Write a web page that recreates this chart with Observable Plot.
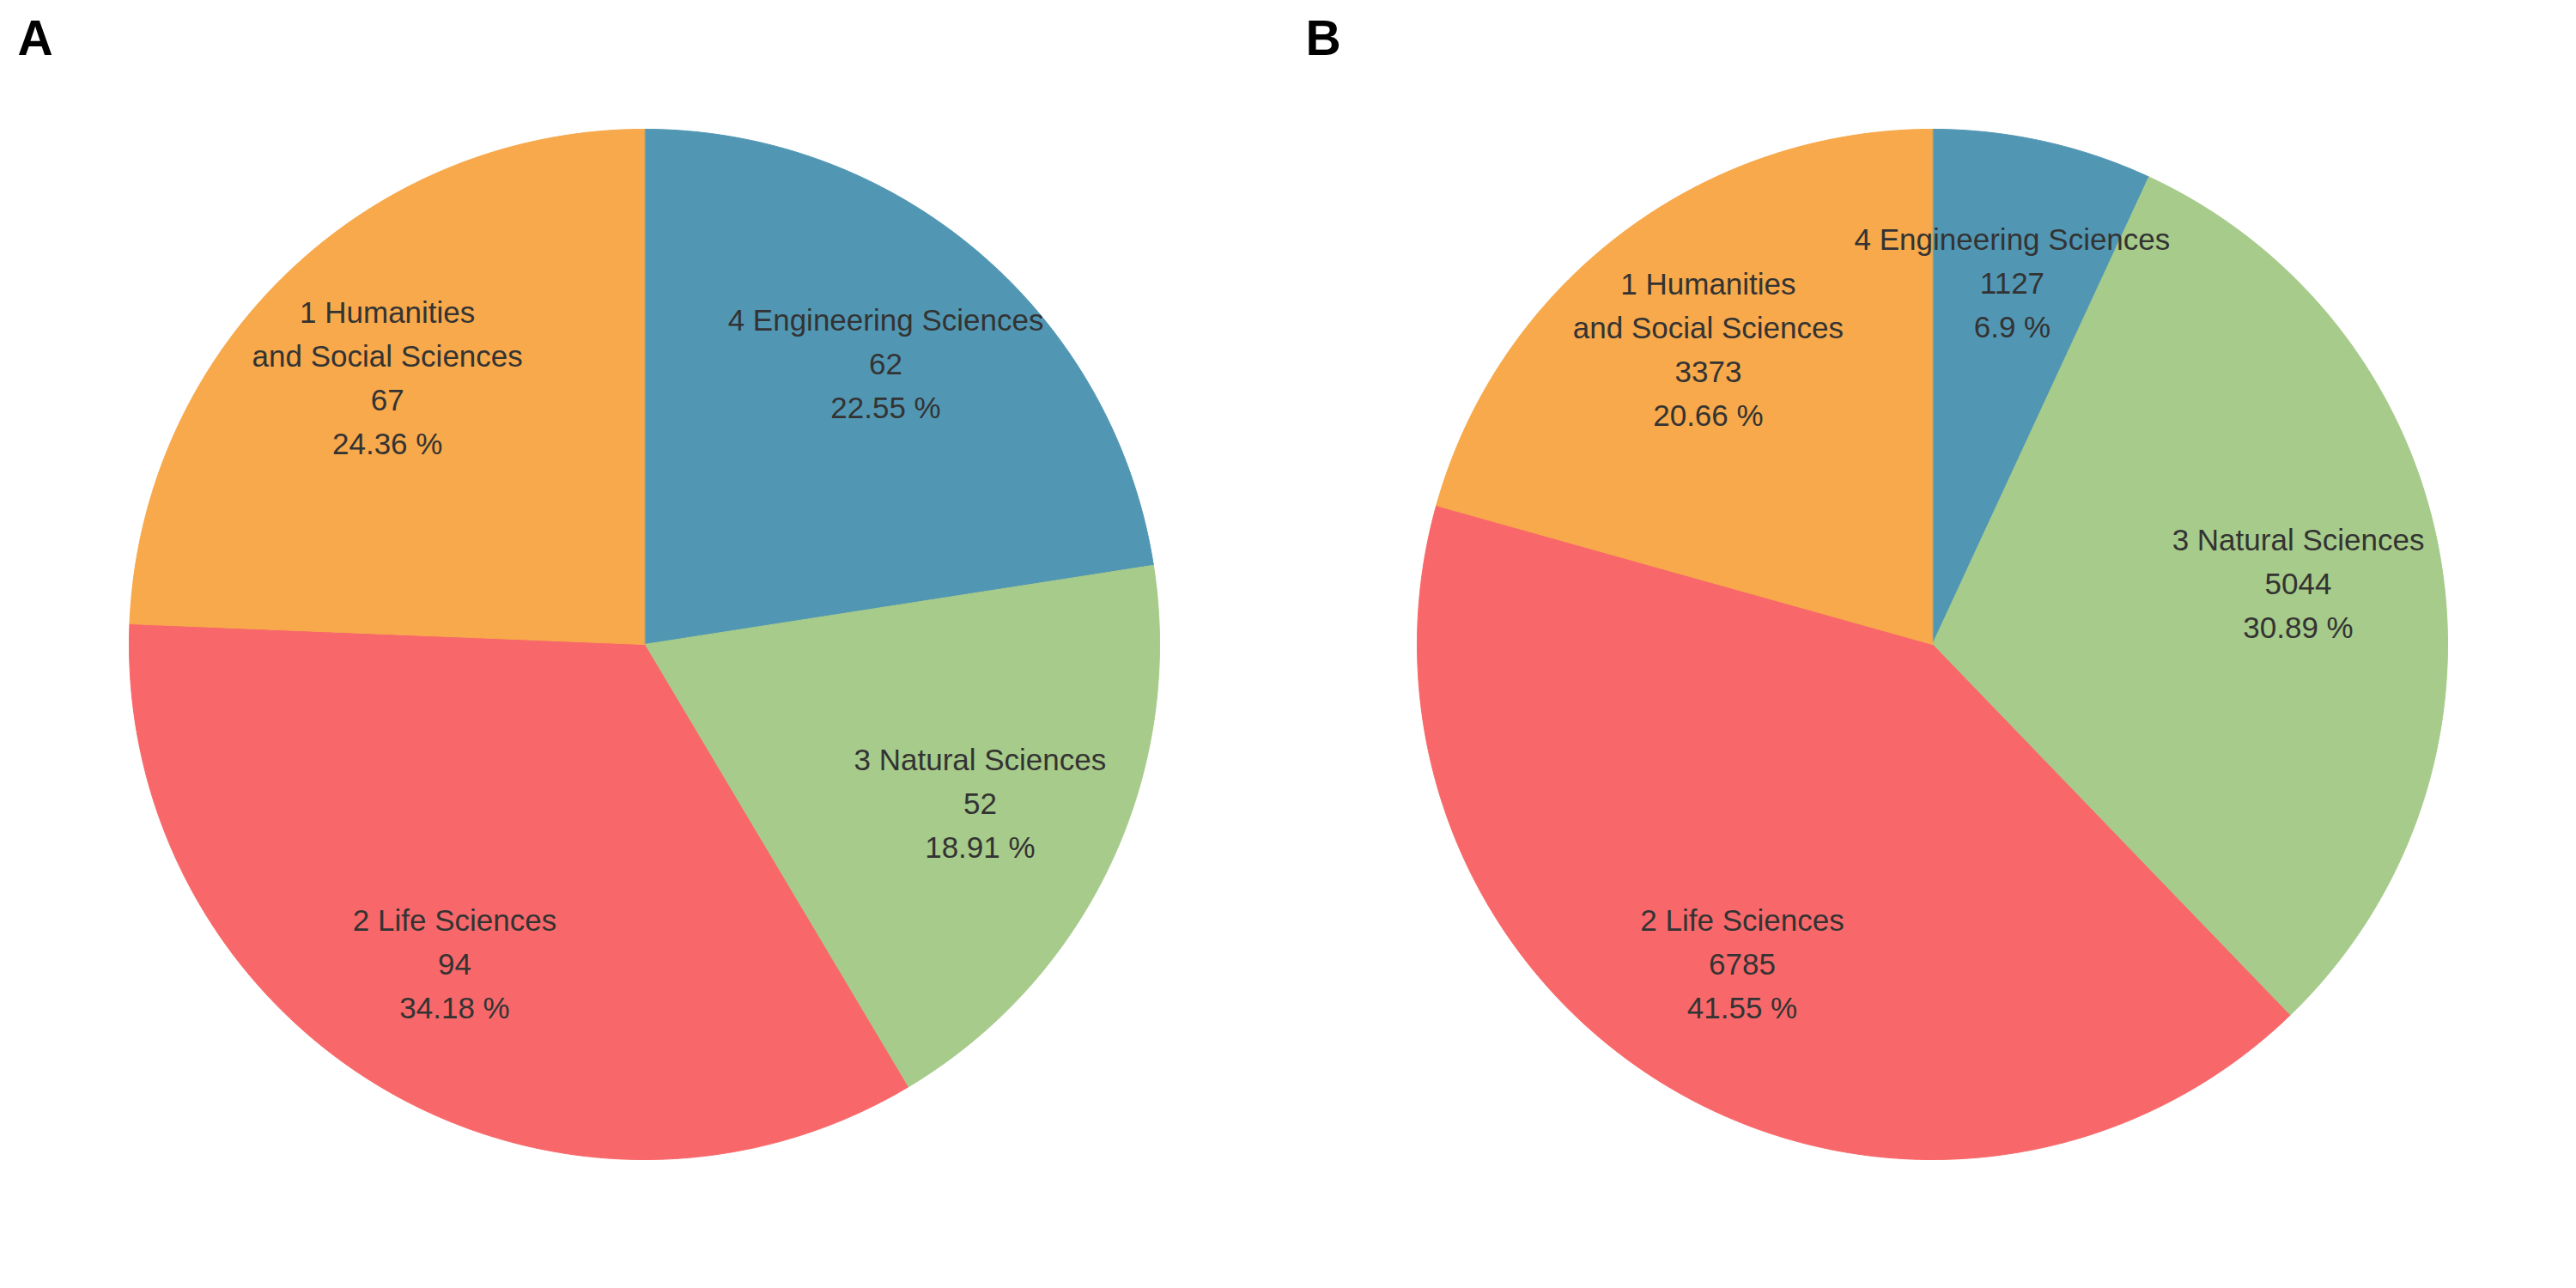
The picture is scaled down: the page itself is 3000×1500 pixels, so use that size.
<!DOCTYPE html>
<html>
<head>
<meta charset="utf-8">
<script src="https://cdn.jsdelivr.net/npm/d3@7"></script>
<script src="https://cdn.jsdelivr.net/npm/@observablehq/plot@0.6"></script>
<style>
  html, body { margin: 0; padding: 0; background: #ffffff; }
  #charts { display: flex; flex-direction: row; width: 3000px; height: 1500px; }
  #charts > * { flex: 0 0 1500px; }
</style>
</head>
<body>
<div id="charts"></div>
<script>
// Research areas and their counts for the two panels
const categories = ["1 Humanities\nand Social Sciences", "2 Life Sciences", "3 Natural Sciences", "4 Engineering Sciences"];
const countsA = [67, 94, 52, 62];
const countsB = [3373, 6785, 5044, 1127];
const colors = ["#F7A94B", "#F8686A", "#A7CB8A", "#5197B4"];
// Slices run clockwise from 12 o'clock in this category order
const clockwiseOrder = [3, 2, 1, 0];
const panelLabels = ["A", "B"];

const FONT = "'Liberation Sans', Arial, Helvetica, sans-serif";
const LABEL_RADIUS = 0.72;

function pieChart(panelLabel, counts) {
  const total = d3.sum(counts);
  const outline = [];
  const labels = [];
  let start = 0;
  for (const i of clockwiseOrder) {
    const frac = counts[i] / total;
    const a0 = start;
    const a1 = start + frac * 2 * Math.PI;
    start = a1;
    const cat = categories[i];
    // wedge outline: centre, then along the rim
    outline.push({cat, x: 0, y: 0});
    const steps = Math.max(2, Math.ceil((a1 - a0) / (Math.PI / 360)));
    for (let k = 0; k <= steps; ++k) {
      const a = a0 + (a1 - a0) * k / steps;
      outline.push({cat, x: Math.sin(a), y: Math.cos(a)});
    }
    const mid = (a0 + a1) / 2;
    const pct = Math.round(frac * 10000) / 100;
    labels.push({
      cat,
      x: LABEL_RADIUS * Math.sin(mid),
      y: LABEL_RADIUS * Math.cos(mid),
      text: `${cat}\n${counts[i]}\n${pct} %`
    });
  }

  return Plot.plot({
    width: 1500,
    height: 1500,
    margin: 0,
    style: {fontFamily: FONT, background: "#ffffff"},
    x: {domain: [-1, 1], range: [150, 1350], axis: null},
    y: {domain: [-1, 1], range: [1350, 150], axis: null},
    color: {domain: categories, range: colors},
    marks: [
      Plot.line(outline, {
        x: "x", y: "y", z: "cat",
        fill: "cat", stroke: "cat", strokeWidth: 1,
        curve: "linear-closed"
      }),
      Plot.text(labels, {
        x: "x", y: "y", text: "text",
        fontSize: 35, lineHeight: 1.46, dy: -3,
        lineAnchor: "middle", textAnchor: "middle",
        fill: "#333333"
      }),
      Plot.text([panelLabel], {
        frameAnchor: "top-left", text: d => d,
        dx: 20, dy: 23,
        textAnchor: "start", lineAnchor: "top",
        fontSize: 57, fontWeight: "bold", fill: "#000000"
      })
    ]
  });
}

const host = document.getElementById("charts");
host.appendChild(pieChart(panelLabels[0], countsA));
host.appendChild(pieChart(panelLabels[1], countsB));
</script>
</body>
</html>
